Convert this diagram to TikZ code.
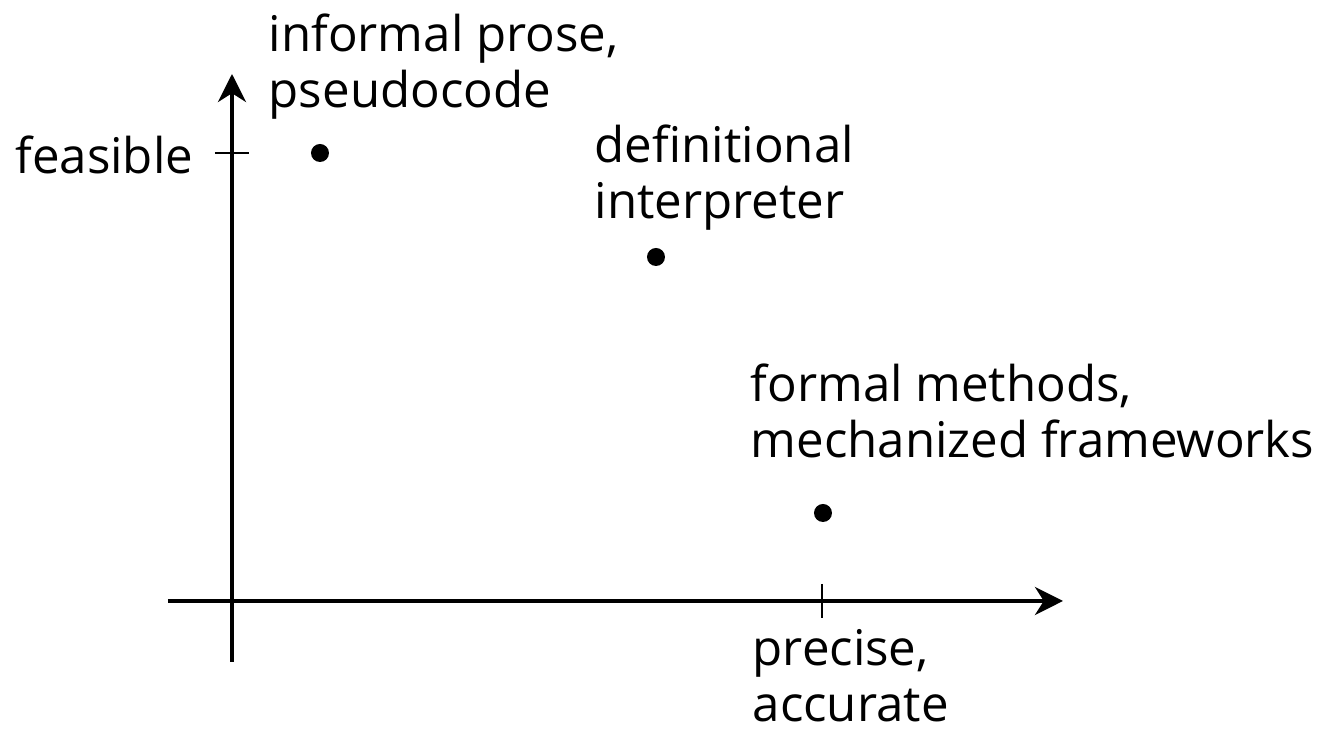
\documentclass[tikz,border=0pt]{standalone}
\usepackage{fontspec}
\setmainfont{Open Sans}
\usetikzlibrary{arrows.meta}

\begin{document}
\begin{tikzpicture}[x=0.25pt,y=-0.25pt,>={Stealth[length=7pt,width=7pt,inset=2.2pt]},
  lbl/.style={align=left,anchor=base west,inner sep=0pt,font=\fontsize{12.3}{14.2}\selectfont},
  dot/.style={circle,fill,inner sep=0pt,minimum size=4.5pt}]
\useasboundingbox (0,0) rectangle (1322,736);
% Axes
\coordinate (xs) at (168,601);
\coordinate (xe) at (1063,601);
\coordinate (ys) at (232,662);
\coordinate (ye) at (232,74);
\draw[line width=1pt,->] (xs) -- (xe);
\draw[line width=1pt,->] (ys) -- (ye);

% ticks
\coordinate (yt1) at (215,153);
\coordinate (yt2) at (249,153);
\coordinate (xt1) at (822,584);
\coordinate (xt2) at (822,618);
\draw (yt1) -- (yt2);
\draw (xt1) -- (xt2);
\node[lbl,anchor=base east] (feas) at (194,174) {feasible};
% base anchor sits on the last line
\node[lbl] (prec) at (752,722) {precise,\\accurate};

% points
\node[dot] (p1) at (320,153) {};
\node[dot] (p2) at (656,257) {};
\node[dot] (p3) at (823,513) {};
\node[lbl] (l1) at (268,108) {informal prose,\\pseudocode};
\node[lbl] (l2) at (594,219) {definitional\\interpreter};
\node[lbl] (l3) at (750,458) {formal methods,\\mechanized frameworks};
\end{tikzpicture}
\end{document}
